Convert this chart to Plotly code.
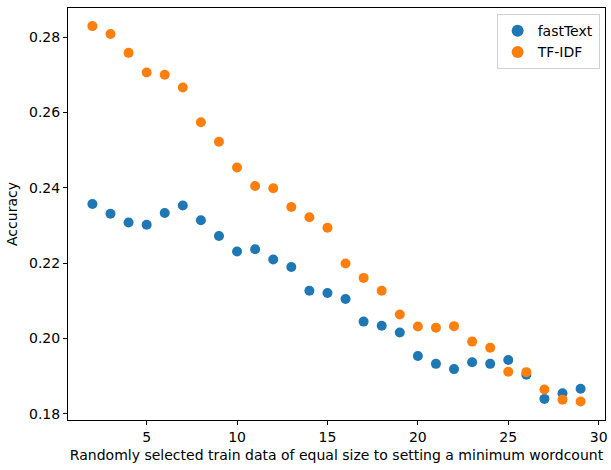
import plotly.graph_objects as go

# Word-count threshold steps
counts = list(range(2, 30))

# Accuracy per step for each vectoriser
fasttext_acc = [0.2357, 0.2331, 0.2308, 0.2302, 0.2333, 0.2353, 0.2314, 0.2272,
                0.2231, 0.2237, 0.2210, 0.2190, 0.2127, 0.2121, 0.2105, 0.2045,
                0.2034, 0.2016, 0.1954, 0.1933, 0.1919, 0.1937, 0.1933, 0.1943,
                0.1904, 0.1840, 0.1855, 0.1867]
tfidf_acc = [0.2829, 0.2808, 0.2758, 0.2706, 0.2700, 0.2666, 0.2574, 0.2522,
             0.2454, 0.2405, 0.2399, 0.2349, 0.2322, 0.2294, 0.2199, 0.2161,
             0.2127, 0.2064, 0.2032, 0.2029, 0.2033, 0.1992, 0.1976, 0.1912,
             0.1911, 0.1865, 0.1838, 0.1833]

x_ticks = [5, 10, 15, 20, 25, 30]
y_ticks = [0.18, 0.20, 0.22, 0.24, 0.26, 0.28]

FONT = "DejaVu Sans"
FS = 14

fig = go.Figure()
fig.add_trace(go.Scatter(x=counts, y=fasttext_acc, mode="markers", name="fastText",
                         marker=dict(color="#1f77b4", size=10)))
fig.add_trace(go.Scatter(x=counts, y=tfidf_acc, mode="markers", name="TF-IDF",
                         marker=dict(color="#ff7f0e", size=10)))

axis_common = dict(showgrid=False, zeroline=False, showline=True, linecolor="black",
                   linewidth=1, mirror=True, ticks="outside", ticklen=4,
                   tickcolor="black", tickfont=dict(family=FONT, size=FS, color="black"))

fig.update_layout(
    width=611, height=470,
    margin=dict(l=68, r=3, t=8, b=50),
    paper_bgcolor="white", plot_bgcolor="white",
    font=dict(family=FONT, color="black"),
    xaxis=dict(range=[0.65, 30.35], tickvals=x_ticks, **axis_common,
               title=dict(text="Randomly selected train data of equal size to setting a minimum wordcount",
                          font=dict(family=FONT, size=FS), standoff=6)),
    yaxis=dict(range=[0.1784, 0.2877], tickvals=y_ticks, tickformat=".2f", **axis_common,
               title=dict(text="Accuracy", font=dict(family=FONT, size=FS), standoff=8)),
    legend=dict(x=0.99, y=0.985, xanchor="right", yanchor="top",
                bordercolor="#d0d0d0", borderwidth=1, bgcolor="rgba(255,255,255,0.8)",
                tracegroupgap=0, itemsizing="constant",
                font=dict(family=FONT, size=FS)),
)

fig.write_html("out.html")
